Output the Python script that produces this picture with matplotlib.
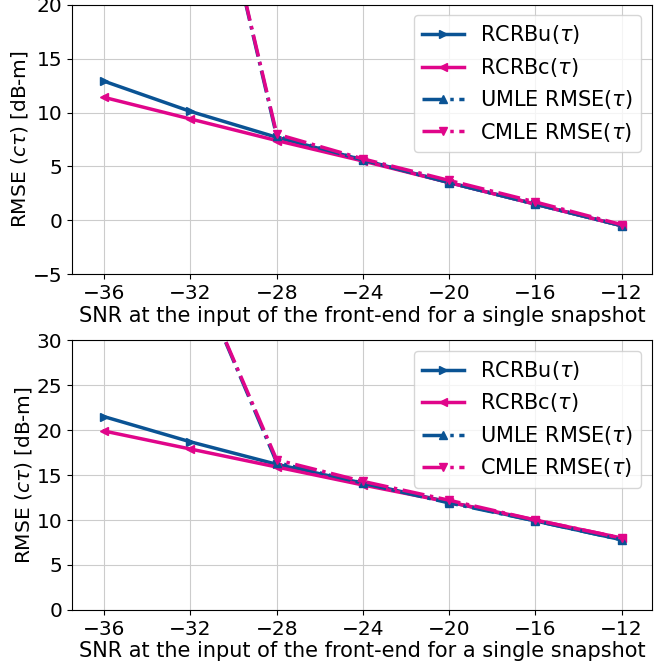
import numpy as np
import matplotlib.pyplot as plt

snr = [-36, -32, -28, -24, -20, -16, -12]

# top panel
rcrb_u_top = [12.9, 10.1, 7.7, 5.6, 3.5, 1.5, -0.5]
rcrb_c_top = [11.4, 9.4, 7.4, 5.5, 3.5, 1.5, -0.5]
umle_top = [60.0, 42.0, 7.8, 5.6, 3.5, 1.5, -0.5]
cmle_top = [60.0, 42.0, 8.0, 5.7, 3.7, 1.7, -0.4]

# bottom panel
rcrb_u_bot = [21.5, 18.7, 16.2, 14.1, 12.0, 9.9, 7.8]
rcrb_c_bot = [19.9, 17.9, 15.9, 13.9, 12.0, 10.0, 8.0]
umle_bot = [55.0, 39.0, 16.4, 14.1, 11.9, 9.9, 7.8]
cmle_bot = [55.0, 39.0, 16.7, 14.3, 12.2, 10.0, 8.0]

xticks = [-36, -32, -28, -24, -20, -16, -12]

blue = '#0a5394'
pink = '#e0058a'

plt.rcParams['font.size'] = 15
plt.rcParams['xtick.labelsize'] = 14.5
plt.rcParams['ytick.labelsize'] = 14.5

fig, axes = plt.subplots(2, 1, figsize=(6.72, 6.68), dpi=100)

panels = [
    (axes[0], rcrb_u_top, rcrb_c_top, umle_top, cmle_top, (-5, 20), [-5, 0, 5, 10, 15, 20]),
    (axes[1], rcrb_u_bot, rcrb_c_bot, umle_bot, cmle_bot, (0, 30), [0, 5, 10, 15, 20, 25, 30]),
]

for ax, ru, rc, um, cm, ylim, yt in panels:
    ax.plot(snr, ru, '->', color=blue, lw=2.5, ms=6, label=r'RCRBu($\tau$)')
    ax.plot(snr, rc, '-<', color=pink, lw=2.5, ms=6, label=r'RCRBc($\tau$)')
    ax.plot(snr, um, '-.^', color=blue, lw=2.5, ms=6, label=r'UMLE RMSE($\tau$)')
    ax.plot(snr, cm, '-.v', color=pink, lw=2.5, ms=6, label=r'CMLE RMSE($\tau$)')
    ax.set_xlim(-37.5, -10.6)
    ax.set_ylim(*ylim)
    ax.set_xticks(xticks)
    ax.set_yticks(yt)
    ax.grid(True, color='#cccccc')
    ax.set_xlabel('SNR at the input of the front-end for a single snapshot', labelpad=2)
    ax.set_ylabel(r'RMSE ($c\tau$) [dB-m]', fontsize=14.5, labelpad=2)
    ax.legend(loc='upper right', handlelength=2.0, labelspacing=0.45, fontsize=15)

fig.subplots_adjust(left=0.107, right=0.97, top=0.993, bottom=0.087, hspace=0.245)
fig.savefig('out.png', dpi=100)
